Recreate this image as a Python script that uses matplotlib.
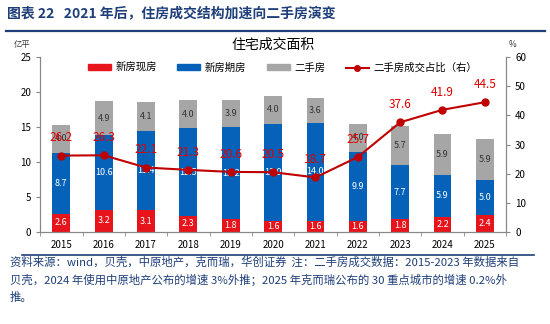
import numpy as np
import matplotlib.pyplot as plt
from matplotlib.lines import Line2D
from matplotlib.patches import Patch

plt.rcParams['font.family'] = ['Noto Sans CJK SC', 'DejaVu Sans']

years = ['2015', '2016', '2017', '2018', '2019', '2020', '2021', '2022', '2023', '2024', '2025']
xianfang = [2.6, 3.2, 3.1, 2.3, 1.8, 1.6, 1.6, 1.6, 1.8, 2.2, 2.4]
qifang = [8.7, 10.6, 11.4, 12.5, 13.2, 13.9, 14.0, 9.9, 7.7, 5.9, 5.0]
ershou = [4.0, 4.9, 4.1, 4.0, 3.9, 4.0, 3.6, 4.0, 5.7, 5.9, 5.9]
ratio = [26.2, 26.3, 22.1, 21.3, 20.6, 20.5, 18.7, 25.7, 37.6, 41.9, 44.5]

RED = '#E8141C'
BLUE = '#0562B8'
GREY = '#A6A6A6'
LINE = '#C00000'
NAVY = '#1F3F7A'

fig = plt.figure(figsize=(5.5, 3.24), dpi=100)

# header
fig.text(0.012, 0.955, '图表 22   2021 年后，住房成交结构加速向二手房演变',
         fontsize=10, fontweight='bold', color=NAVY, va='center')
fig.add_artist(Line2D([0.01, 0.99], [0.905, 0.905], color=NAVY, lw=1.6))

ax = fig.add_axes([0.073, 0.284, 0.847, 0.54])
ax2 = ax.twinx()

x = np.arange(len(years))
w = 0.42
b1 = np.array(xianfang)
b2 = b1 + np.array(qifang)
ax.bar(x, xianfang, w, color=RED, zorder=2)
ax.bar(x, qifang, w, bottom=b1, color=BLUE, zorder=2)
ax.bar(x, ershou, w, bottom=b2, color=GREY, zorder=2)

for i in range(len(x)):
    ax.text(x[i], xianfang[i] / 2, f'{xianfang[i]:.1f}', ha='center', va='center',
            color='white', fontsize=6.5)
    ax.text(x[i], b1[i] + qifang[i] / 2, f'{qifang[i]:.1f}', ha='center', va='center',
            color='white', fontsize=6.5)
    ax.text(x[i], b2[i] + ershou[i] / 2, f'{ershou[i]:.1f}', ha='center', va='center',
            color='#333333', fontsize=6.5)

ax2.plot(x, ratio, color=LINE, lw=1.5, marker='o', ms=5, zorder=3)
for i in range(len(x)):
    ax2.annotate(f'{ratio[i]:.1f}', (x[i], ratio[i]), xytext=(0, 8),
                 textcoords='offset points', ha='center', va='bottom',
                 color='#E00000', fontsize=8.5, zorder=4)

ax.set_xlim(-0.5, len(x) - 0.5)
ax.set_ylim(0, 25)
ax2.set_ylim(0, 60)
ax.set_yticks(range(0, 26, 5))
ax2.set_yticks(range(0, 61, 10))
ax.set_xticks(x)
ax.set_xticklabels(years)
ax.set_xticks(np.arange(-0.5, len(x), 1), minor=True)
ax.tick_params(axis='x', which='major', length=0, labelsize=7, pad=6)
ax.tick_params(axis='x', which='minor', length=3, color='#888888', direction='out')
ax.tick_params(axis='y', labelsize=7, length=3, color='#888888')
ax2.tick_params(axis='y', labelsize=7, length=3, color='#888888')

for a in (ax, ax2):
    a.spines['top'].set_visible(False)
    for s in ('left', 'right', 'bottom'):
        a.spines[s].set_color('#888888')
        a.spines[s].set_linewidth(0.8)

ax.text(-0.02, 1.06, '亿平', transform=ax.transAxes, fontsize=6, ha='right', color='#333333')
ax2.text(1.005, 1.06, '%', transform=ax2.transAxes, fontsize=6, ha='left', color='#333333')
ax.set_title('住宅成交面积', fontsize=10, pad=6)

handles = [Patch(color=RED), Patch(color=BLUE), Patch(color=GREY),
           Line2D([], [], color=LINE, lw=1.5, marker='o', ms=4)]
labels = ['新房现房', '新房期房', '二手房', '二手房成交占比（右）']
ax2.legend(handles, labels, loc='upper center', bbox_to_anchor=(0.52, 1.02), ncol=4,
           frameon=False, fontsize=7.5, handlelength=2.2, handleheight=0.5,
           columnspacing=2.0, handletextpad=0.4)

# footer
fig.add_artist(Line2D([0.04, 0.97], [0.213, 0.213], color=NAVY, lw=1.2))
notes = ['资料来源：wind，贝壳，中原地产，克而瑞，华创证券  注：二手房成交数据：2015-2023 年数据来自',
         '贝壳，2024 年使用中原地产公布的增速 3%外推；2025 年克而瑞公布的 30 重点城市的增速 0.2%外',
         '推。']
for k, line in enumerate(notes):
    fig.text(0.018, 0.19 - k * 0.054, line, fontsize=8.2, color=NAVY,
             style='italic', va='center')

fig.savefig('out.png', dpi=100)
